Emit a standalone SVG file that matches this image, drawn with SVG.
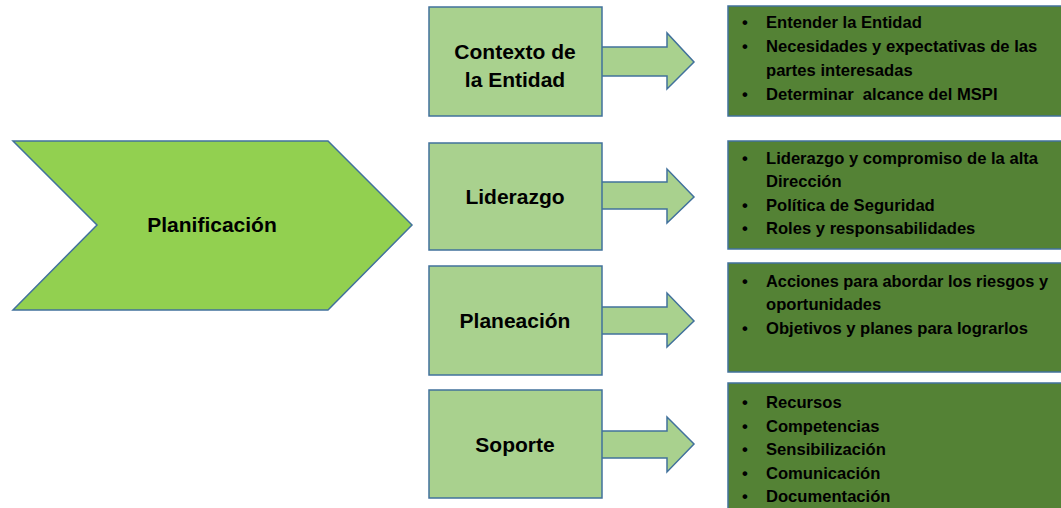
<svg xmlns="http://www.w3.org/2000/svg" width="1061" height="508" viewBox="0 0 1061 508">
<style>
.chev{fill:#92D050;stroke:#41719C;stroke-width:1.5}
.box{fill:#A9D18E;stroke:#41719C;stroke-width:1.5}
.arr{fill:#A9D18E;stroke:#41719C;stroke-width:1.5}
.dark{fill:#548235;stroke:#41719C;stroke-width:1.5}
.lbl{font-family:"Liberation Sans",Arial,sans-serif;font-weight:bold;font-size:21px;fill:#000;text-anchor:middle}
.item{font-family:"Liberation Sans",Arial,sans-serif;font-weight:bold;font-size:16.6px;fill:#000}
</style>
<rect width="1061" height="508" fill="#fff"/>
<g id="planificacion">
<polygon class="chev" points="13,141 328,141 412,225 328,310 13,310 97,225"/>
<text class="lbl" x="212" y="232">Planificación</text>
</g>
<g id="connectors">
<polygon class="arr" points="601,47 667,47 667,33 694,62 667,89 667,76 601,76"/>
<polygon class="arr" points="601,182 667,182 667,169 694,197 667,223 667,209 601,209"/>
<polygon class="arr" points="601,307 667,307 667,293 694,321 667,347 667,334 601,334"/>
<polygon class="arr" points="601,431 667,431 667,417 694,444 667,472 667,458 601,458"/>
</g>
<g id="contexto">
<rect class="box" x="429" y="7" width="173" height="109"/>
<text class="lbl" x="515" y="59">Contexto de</text>
<text class="lbl" x="515" y="87">la Entidad</text>
</g>
<g id="liderazgo">
<rect class="box" x="429" y="143" width="173" height="107"/>
<text class="lbl" x="515" y="204">Liderazgo</text>
</g>
<g id="planeacion">
<rect class="box" x="429" y="266" width="173" height="109"/>
<text class="lbl" x="515" y="328">Planeación</text>
</g>
<g id="soporte">
<rect class="box" x="429" y="390" width="173" height="108"/>
<text class="lbl" x="515" y="452">Soporte</text>
</g>
<g id="contexto-items">
<rect class="dark" x="728" y="6" width="340" height="110"/>
<text class="item"><tspan x="742" y="28">•</tspan><tspan x="766" y="28">Entender la Entidad</tspan><tspan x="742" y="52">•</tspan><tspan x="766" y="52">Necesidades y expectativas de las</tspan><tspan x="766" y="76">partes interesadas</tspan><tspan x="742" y="100">•</tspan><tspan x="766" y="100">Determinar&#160; alcance del MSPI</tspan></text>
</g>
<g id="liderazgo-items">
<rect class="dark" x="728" y="141" width="340" height="108"/>
<text class="item"><tspan x="742" y="164">•</tspan><tspan x="766" y="164">Liderazgo y compromiso de la alta</tspan><tspan x="766" y="187">Dirección</tspan><tspan x="742" y="211">•</tspan><tspan x="766" y="211">Política de Seguridad</tspan><tspan x="742" y="234">•</tspan><tspan x="766" y="234">Roles y responsabilidades</tspan></text>
</g>
<g id="planeacion-items">
<rect class="dark" x="728" y="263" width="340" height="109"/>
<text class="item"><tspan x="742" y="287">•</tspan><tspan x="766" y="287" textLength="282" lengthAdjust="spacingAndGlyphs">Acciones para abordar los riesgos y</tspan><tspan x="766" y="310">oportunidades</tspan><tspan x="742" y="334">•</tspan><tspan x="766" y="334">Objetivos y planes para lograrlos</tspan></text>
</g>
<g id="soporte-items">
<rect class="dark" x="728" y="383" width="340" height="140"/>
<text class="item"><tspan x="742" y="408">•</tspan><tspan x="766" y="408">Recursos</tspan><tspan x="742" y="432">•</tspan><tspan x="766" y="432">Competencias</tspan><tspan x="742" y="455">•</tspan><tspan x="766" y="455">Sensibilización</tspan><tspan x="742" y="479">•</tspan><tspan x="766" y="479">Comunicación</tspan><tspan x="742" y="502">•</tspan><tspan x="766" y="502">Documentación</tspan></text>
</g>
</svg>
